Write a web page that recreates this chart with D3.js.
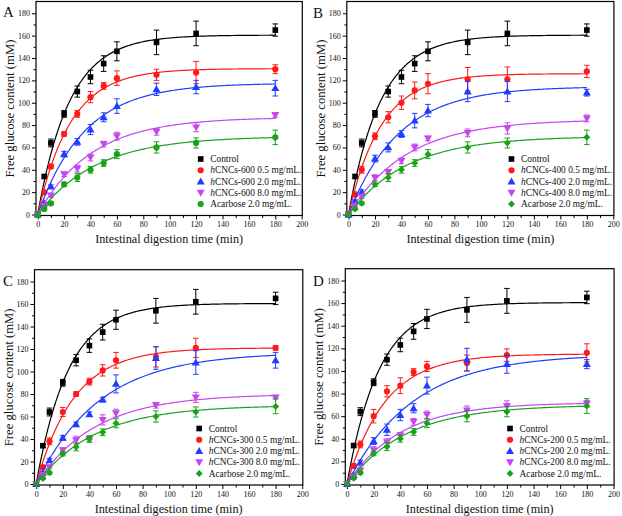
<!DOCTYPE html>
<html><head><meta charset="utf-8">
<script src="https://cdn.jsdelivr.net/npm/d3@7"></script>
<style>
body{margin:0;background:#fff}
svg{display:block}
text{font-family:"Liberation Serif","Times New Roman",serif;fill:#111}
</style>
</head><body>
<svg id="chart" width="622" height="516"></svg>
<script>
// ---------- DATA ----------
const times = [0, 5, 10, 20, 30, 40, 50, 60, 90, 120, 180];
const xTicks = [0, 20, 40, 60, 80, 100, 120, 140, 160, 180, 200];
const yTicks = [0, 20, 40, 60, 80, 100, 120, 140, 160, 180];
const panelLetters = ["A", "B", "C", "D"];
const panelSizes = ["600", "400", "300", "200"];

const control    = [0, 34, 64, 90, 110, 123, 135, 146, 154, 162, 165];
const controlErr = [0, 1.5, 3.5, 3, 5, 6, 7, 8.5, 11, 11, 5.5];
const acarbose    = [0, 5, 10, 27, 33, 40, 46, 54, 60, 64, 69];
const acarboseErr = [0, 1, 1.5, 2, 3.5, 3, 3, 4, 5, 4.5, 6.5];

// hCNCs 0.5 mg/mL for panels A-D
const low = [
  [0, 20, 43, 72, 90, 105, 115, 122, 125, 127, 130],
  [0, 18, 40, 70, 87, 100, 111, 117, 121, 121, 128],
  [0, 15, 38, 64, 80, 91, 101, 110, 113, 121, 121],
  [0, 16, 35, 60, 82, 87, 99, 104, 107, 114, 116]
];
const lowErr = [
  [0, 1, 2, 2, 3, 5, 3, 6.5, 5, 10, 4],
  [0, 2, 3, 3, 5, 6, 7.5, 9, 10.5, 11, 5.5],
  [0, 1.5, 3, 4, 2, 3, 5, 7, 9, 8.5, 2],
  [0, 2, 3, 6, 5, 7, 3, 4.5, 7, 5.5, 8]
];
// hCNCs 2.0 mg/mL
const mid = [
  [0, 10, 25, 54, 65, 76, 87, 97, 112, 114, 113],
  [0, 12, 20, 50, 60, 72, 84, 93, 110, 110, 109],
  [0, 10, 21, 41, 53, 62, 75, 89, 112, 108, 110],
  [0, 8, 19, 38, 48, 61, 67, 87, 110, 106, 106]
];
const midErr = [
  [0, 1, 1.5, 2.5, 3, 4.5, 4, 6.5, 5.5, 6, 7],
  [0, 1, 2, 3, 4, 3, 6.5, 5.5, 9, 9, 3],
  [0, 1, 1.5, 2, 2, 2, 2, 8, 10, 10.5, 7],
  [0, 1, 2, 3, 5, 5, 4, 7.5, 10, 8, 4]
];
// hCNCs 8.0 mg/mL
const high = [
  [0, 8, 17, 36, 41, 51, 63, 70, 74, 78, 89],
  [0, 8, 16, 33, 38, 48, 60, 68, 73, 77, 86],
  [0, 8, 15, 30, 39, 40, 57, 63, 70, 77, 77],
  [0, 6, 12, 30, 37, 43, 55, 61, 65, 69, 71]
];
const highErr = [
  [0, 1, 1.5, 2, 3, 3, 2.5, 3.5, 3, 4, 2],
  [0, 1, 1.5, 2.5, 2, 2.5, 3, 2, 3.5, 5, 3],
  [0, 1, 1, 2, 3.5, 2, 4.5, 3.5, 2.5, 4.5, 1],
  [0, 1, 1.5, 3, 3, 2.5, 3, 3.5, 4, 4.5, 3]
];
// first-order fitted curves C = Cinf (1 - exp(-k t)), parameters
const controlFit = [160.5, 0.0413];
const acarboseFit = [70, 0.0226];
const lowFit  = [[130.5, 0.040], [126, 0.0406], [121, 0.0353], [115, 0.035]];
const midFit  = [[117.5, 0.0283], [114.5, 0.0264], [117, 0.0211], [115, 0.0203]];
const highFit = [[87, 0.0245], [85, 0.0228], [80, 0.0227], [72, 0.025]];

// ---------- DRAW ----------
const colors = {control: "#000000", low: "#ff1a1a", mid: "#1f3dff", high: "#c546ee", acarbose: "#19a319"};
const svg = d3.select("#chart");

const panels = [
  {x0: 37.7, x200: 301.7, y0: 214.5, y180: 13.3, lx: 3, ly: 17},
  {x0: 348.5, x200: 613.3, y0: 214.5, y180: 13.3, lx: 313, ly: 18},
  {x0: 36.2, x200: 302.2, y0: 484, y180: 281.5, lx: 3, ly: 285.5},
  {x0: 347, x200: 613.5, y0: 484, y180: 280.5, lx: 313, ly: 285.5}
];

function diamondPath(s) {
  return `M0,${-s}L${s},0L0,${s}L${-s},0Z`;
}

panels.forEach((p, i) => {
  const g = svg.append("g");
  const x = d3.scaleLinear().domain([0, 200]).range([p.x0, p.x200]);
  const y = d3.scaleLinear().domain([0, 180]).range([p.y0, p.y180]);
  const L = p.x0 - 1.7, R = p.x200 + 0.6, T = p.y180 - 11.8, B = p.y0 + 1;

  // minor ticks
  const minorX = d3.range(10, 200, 20);
  const minorY = d3.range(10, 190, 20);
  g.append("g").attr("transform", `translate(0,${B})`)
    .call(d3.axisBottom(x).tickValues(minorX).tickSize(2.5).tickFormat(""))
    .call(a => a.select(".domain").remove())
    .selectAll("line").attr("stroke-width", 1);
  g.append("g").attr("transform", `translate(${L},0)`)
    .call(d3.axisLeft(y).tickValues(minorY).tickSize(2.5).tickFormat(""))
    .call(a => a.select(".domain").remove())
    .selectAll("line").attr("stroke-width", 1);

  // major axes
  const ax = g.append("g").attr("transform", `translate(0,${B})`)
    .call(d3.axisBottom(x).tickValues(xTicks).tickSize(4).tickPadding(2).tickFormat(d3.format("d")));
  ax.select(".domain").remove();
  ax.selectAll("line").attr("stroke-width", 1);
  ax.selectAll("text").style("font-size", "8px").style("font-family", "'Liberation Serif',serif").attr("fill", "#222");

  const ay = g.append("g").attr("transform", `translate(${L},0)`)
    .call(d3.axisLeft(y).tickValues(yTicks).tickSize(4).tickPadding(2).tickFormat(d3.format("d")));
  ay.select(".domain").remove();
  ay.selectAll("line").attr("stroke-width", 1);
  ay.selectAll("text").style("font-size", "8px").style("font-family", "'Liberation Serif',serif").attr("fill", "#222");

  // frame
  g.append("rect").attr("x", L).attr("y", T).attr("width", R - L).attr("height", B - T)
    .attr("fill", "none").attr("stroke", "#000").attr("stroke-width", 1.2);

  // titles
  g.append("text").attr("x", (L + R) / 2).attr("y", p.y0 + 28.5)
    .attr("text-anchor", "middle").style("font-size", "12.2px")
    .text("Intestinal digestion time (min)");
  g.append("text")
    .attr("transform", `translate(${L - 22},${(T + B) / 2}) rotate(-90)`)
    .attr("text-anchor", "middle").style("font-size", "12.7px")
    .text("Free glucose content (mM)");
  g.append("text").attr("x", p.lx).attr("y", p.ly).style("font-size", "15px")
    .text(panelLetters[i]);

  const series = [
    {vals: control, err: controlErr, fit: controlFit, color: colors.control, sym: "square", label: null},
    {vals: low[i], err: lowErr[i], fit: lowFit[i], color: colors.low, sym: "circle", conc: "0.5"},
    {vals: mid[i], err: midErr[i], fit: midFit[i], color: colors.mid, sym: "triangle", conc: "2.0"},
    {vals: high[i], err: highErr[i], fit: highFit[i], color: colors.high, sym: "triangleDown", conc: "8.0"},
    {vals: acarbose, err: acarboseErr, fit: acarboseFit, color: colors.acarbose, sym: i === 0 ? "circle" : "diamond", label: "Acarbose 2.0 mg/mL."}
  ];

  function symbolPath(sym) {
    if (sym === "square") return d3.symbol(d3.symbolSquare, 32)();
    if (sym === "circle") return d3.symbol(d3.symbolCircle, 30)();
    if (sym === "triangle" || sym === "triangleDown") return d3.symbol(d3.symbolTriangle, 28)();
    if (sym === "diamond") return diamondPath(3.5);
  }
  function symTransform(sym, cx, cy) {
    if (sym === "triangle") return `translate(${cx},${cy + 0.6})`;
    if (sym === "triangleDown") return `translate(${cx},${cy - 0.6}) rotate(180)`;
    return `translate(${cx},${cy})`;
  }

  const line = d3.line().x(d => x(d[0])).y(d => y(d[1]));
  series.forEach(s => {
    const sg = g.append("g");
    // error bars
    times.forEach((t, j) => {
      const e = s.err[j];
      if (!e) return;
      const cx = x(t), yt = y(s.vals[j] + e), yb = y(s.vals[j] - e);
      sg.append("line").attr("x1", cx).attr("x2", cx).attr("y1", yt).attr("y2", yb)
        .attr("stroke", s.color).attr("stroke-width", 1);
      [yt, yb].forEach(yy => sg.append("line").attr("x1", cx - 2.8).attr("x2", cx + 2.8)
        .attr("y1", yy).attr("y2", yy).attr("stroke", s.color).attr("stroke-width", 1));
    });
    // fitted curve
    const pts = d3.range(0, 180.5, 1).map(t => [t, s.fit[0] * (1 - Math.exp(-s.fit[1] * t))]);
    sg.append("path").attr("d", line(pts)).attr("fill", "none")
      .attr("stroke", s.color).attr("stroke-width", 1.2);
    // markers
    times.forEach((t, j) => {
      sg.append("path").attr("d", symbolPath(s.sym))
        .attr("transform", symTransform(s.sym, x(t), y(s.vals[j])))
        .attr("fill", s.color);
    });
  });

  // legend
  const lg = g.append("g");
  series.forEach((s, k) => {
    const ly = p.y0 - 55.5 + k * 11.25;
    const sx = p.x0 + 163;
    lg.append("path").attr("d", symbolPath(s.sym))
      .attr("transform", symTransform(s.sym, sx, ly)).attr("fill", s.color);
    const t = lg.append("text").attr("x", p.x0 + 172.5).attr("y", ly + 3.2).style("font-size", "9.4px");
    if (k === 0) t.text("Control");
    else if (k === 4) t.text(s.label);
    else {
      t.append("tspan").style("font-style", "italic").text("h");
      t.append("tspan").text(`CNCs-${panelSizes[i]} ${s.conc} mg/mL.`);
    }
  });
});
</script>
</body></html>
